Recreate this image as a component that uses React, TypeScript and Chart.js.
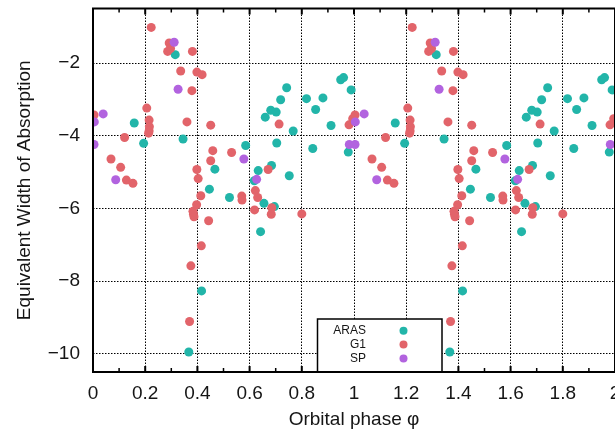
import { useEffect, useRef } from "react";
import { Chart, registerables } from "chart.js";

Chart.register(...registerables);

// Tick values
const xTickValues = [0, 0.2, 0.4, 0.6, 0.8, 1, 1.2, 1.4, 1.6, 1.8, 2];
const yTickValues = [-10, -8, -6, -4, -2];

// ARAS (orbital phase, equivalent width) — plotted over two cycles
const arasPhase = [
  0.158, 0.194, 0.315, 0.345, 0.367, 0.416, 0.446, 0.467, 0.523, 0.585, 0.618,
  0.633, 0.642, 0.655, 0.66, 0.681, 0.684, 0.695, 0.702, 0.704, 0.719, 0.742,
  0.752, 0.767, 0.818, 0.842, 0.853, 0.881, 0.912, 0.949, 0.96, 0.978, 0.989,
  1.158, 1.194, 1.315, 1.345, 1.367, 1.416, 1.446, 1.467, 1.523, 1.585, 1.618,
  1.633, 1.642, 1.655, 1.66, 1.681, 1.684, 1.695, 1.702, 1.704, 1.719, 1.742,
  1.752, 1.767, 1.818, 1.842, 1.853, 1.881, 1.912, 1.949, 1.96, 1.978, 1.989,
];
const arasWidth = [
  -3.65, -4.21, -1.77, -4.09, -9.95, -8.27, -5.47, -4.92, -5.7, -4.27, -5.24,
  -4.96, -6.64, -5.86, -3.49, -3.3, -4.82, -5.95, -3.35, -4.2, -3.01, -2.68,
  -5.1, -3.87, -2.98, -4.35, -3.28, -2.96, -3.72, -2.46, -2.4, -4.45, -2.74,
  -3.65, -4.21, -1.77, -4.09, -9.95, -8.27, -5.47, -4.92, -5.7, -4.27, -5.24,
  -4.96, -6.64, -5.86, -3.49, -3.3, -4.82, -5.95, -3.35, -4.2, -3.01, -2.68,
  -5.1, -3.87, -2.98, -4.35, -3.28, -2.96, -3.72, -2.46, -2.4, -4.45, -2.74,
];

// G1
const g1Phase = [
  0.004, 0.069, 0.106, 0.121, 0.128, 0.153, 0.206, 0.215, 0.216, 0.215, 0.213,
  0.223, 0.286, 0.292, 0.297, 0.336, 0.36, 0.37, 0.375, 0.379, 0.381, 0.383,
  0.385, 0.387, 0.397, 0.398, 0.398, 0.403, 0.413, 0.415, 0.418, 0.443, 0.451,
  0.451, 0.459, 0.531, 0.57, 0.571, 0.619, 0.622, 0.631, 0.671, 0.683, 0.685,
  0.713, 0.8, 0.981, 0.995,
  1.004, 1.069, 1.106, 1.121, 1.128, 1.153, 1.206, 1.215, 1.216, 1.215, 1.213,
  1.223, 1.286, 1.292, 1.297, 1.336, 1.36, 1.37, 1.375, 1.379, 1.381, 1.383,
  1.385, 1.387, 1.397, 1.398, 1.398, 1.403, 1.413, 1.415, 1.418, 1.443, 1.451,
  1.451, 1.459, 1.531, 1.57, 1.571, 1.619, 1.622, 1.631, 1.671, 1.683, 1.685,
  1.713, 1.8, 1.981, 1.995,
];
const g1Width = [
  -3.43, -4.64, -4.87, -4.05, -5.22, -5.31, -3.24, -3.57, -3.75, -3.87, -3.93,
  -1.02, -1.68, -1.45, -1.6, -2.22, -3.62, -9.11, -7.58, -2.76, -1.68, -6.08,
  -6.16, -6.23, -5.9, -2.25, -4.93, -5.18, -5.65, -7.03, -2.32, -6.34, -3.71,
  -4.69, -4.41, -4.46, -5.66, -5.77, -6.04, -5.51, -5.7, -4.93, -6.16, -5.98,
  -3.68, -6.15, -3.7, -3.53,
  -3.43, -4.64, -4.87, -4.05, -5.22, -5.31, -3.24, -3.57, -3.75, -3.87, -3.93,
  -1.02, -1.68, -1.45, -1.6, -2.22, -3.62, -9.11, -7.58, -2.76, -1.68, -6.08,
  -6.16, -6.23, -5.9, -2.25, -4.93, -5.18, -5.65, -7.03, -2.32, -6.34, -3.71,
  -4.69, -4.41, -4.46, -5.66, -5.77, -6.04, -5.51, -5.7, -4.93, -6.16, -5.98,
  -3.68, -6.15, -3.7, -3.53,
];

// SP
const spPhase = [
  0.005, 0.004, 0.039, 0.087, 0.311, 0.326, 0.578, 0.627, 0.982,
  1.005, 1.004, 1.039, 1.087, 1.311, 1.326, 1.578, 1.627, 1.982,
];
const spWidth = [
  -3.62, -4.24, -3.4, -5.21, -1.43, -2.72, -4.64, -5.2, -4.24,
  -3.62, -4.24, -3.4, -5.21, -1.43, -2.72, -4.64, -5.2, -4.24,
];

const seriesLabels = ["ARAS", "G1", "SP"];
const seriesColors = ["#22b5a9", "#e2646a", "#b263df"];

const FONT = "'Liberation Sans', Arial, Helvetica, sans-serif";
const TEXT = "#151515";
const DOT = 4.5;

const toPoints = (xs: number[], ys: number[]) =>
  xs.map((x, i) => ({ x, y: ys[i] }));

const framePlugin = {
  id: "frameAndLegend",
  afterDraw(chart: any) {
    const { ctx, chartArea: a } = chart;
    const xs = chart.scales.x;
    ctx.save();
    ctx.strokeStyle = "#000";
    // inward tick marks on top and bottom borders
    for (let i = 0; i <= 20; i++) {
      const px = xs.getPixelForValue(i / 10);
      const major = i % 2 === 0;
      ctx.lineWidth = major ? 2 : 1.5;
      const len = major ? 6 : 4;
      ctx.beginPath();
      ctx.moveTo(px, a.top);
      ctx.lineTo(px, a.top + len);
      ctx.moveTo(px, a.bottom);
      ctx.lineTo(px, a.bottom - len);
      ctx.stroke();
    }
    // legend box
    const bx = a.left + 224.5;
    const by = a.bottom - 53;
    const bw = 124.5;
    const bh = 53;
    ctx.fillStyle = "#fff";
    ctx.fillRect(bx, by, bw, bh);
    ctx.lineWidth = 1.5;
    ctx.strokeRect(bx, by, bw, bh);
    ctx.font = `12px ${FONT}`;
    ctx.textAlign = "right";
    ctx.textBaseline = "middle";
    chart.data.datasets.forEach((ds: any, i: number) => {
      const ty = by + 11.8 + i * 13.8;
      ctx.fillStyle = TEXT;
      ctx.fillText(ds.label, bx + 48.5, ty);
      ctx.fillStyle = ds.backgroundColor;
      ctx.beginPath();
      ctx.arc(bx + 86, ty, 4, 0, Math.PI * 2);
      ctx.fill();
    });
    // frame
    ctx.lineWidth = 2;
    ctx.strokeRect(a.left, a.top, a.right - a.left, a.bottom - a.top);
    ctx.restore();
  },
};

export default function App() {
  const canvasRef = useRef<HTMLCanvasElement | null>(null);

  useEffect(() => {
    if (!canvasRef.current) return;
    const chart = new Chart(canvasRef.current, {
      type: "scatter",
      data: {
        datasets: [
          {
            label: seriesLabels[0],
            data: toPoints(arasPhase, arasWidth),
            backgroundColor: seriesColors[0],
            pointRadius: DOT,
            pointBorderWidth: 0,
            order: 2,
          },
          {
            label: seriesLabels[1],
            data: toPoints(g1Phase, g1Width),
            backgroundColor: seriesColors[1],
            pointRadius: DOT,
            pointBorderWidth: 0,
            order: 1,
          },
          {
            label: seriesLabels[2],
            data: toPoints(spPhase, spWidth),
            backgroundColor: seriesColors[2],
            pointRadius: DOT,
            pointBorderWidth: 0,
            order: 0,
          },
        ],
      },
      options: {
        animation: false,
        responsive: false,
        devicePixelRatio: 1,
        events: [],
        layout: { padding: { top: 8.5, right: 45, left: 0, bottom: 0 } },
        plugins: {
          legend: { display: false },
          tooltip: { enabled: false },
        },
        scales: {
          x: {
            type: "linear",
            position: "bottom",
            min: 0,
            max: 2,
            afterBuildTicks: (s: any) => {
              s.ticks = xTickValues.map((v) => ({ value: v }));
            },
            afterFit: (s: any) => {
              s.height = 61;
              s.paddingLeft = 0;
              s.paddingRight = 0;
            },
            ticks: {
              autoSkip: false,
              maxRotation: 0,
              padding: 10,
              color: TEXT,
              font: { family: FONT, size: 19 },
              callback: (v: any) => String(Number(Number(v).toFixed(1))),
            },
            grid: { color: "#000", lineWidth: 1, drawTicks: false },
            border: { display: false, dash: [1.5, 1.5] },
            title: {
              display: true,
              text: "Orbital phase φ",
              color: TEXT,
              font: { family: FONT, size: 19 },
              padding: { top: 0, bottom: 2 },
            },
          },
          y: {
            type: "linear",
            position: "left",
            min: -10.5,
            max: -0.5,
            afterBuildTicks: (s: any) => {
              s.ticks = yTickValues.map((v) => ({ value: v }));
            },
            afterFit: (s: any) => {
              s.width = 93;
              s.paddingTop = 0;
              s.paddingBottom = 0;
            },
            ticks: {
              padding: 13,
              color: TEXT,
              font: { family: FONT, size: 19 },
              callback: (v: any) =>
                Number(v) < 0 ? "\u2212" + Math.abs(Number(v)) : String(v),
            },
            grid: { color: "#000", lineWidth: 1, drawTicks: false },
            border: { display: false, dash: [1.5, 1.5] },
            title: {
              display: true,
              text: "Equivalent Width of Absorption",
              color: TEXT,
              font: { family: FONT, size: 19 },
              padding: { top: 13.5, bottom: 0 },
            },
          },
        },
      },
      plugins: [framePlugin],
    });
    return () => chart.destroy();
  }, []);

  return (
    <div
      style={{
        position: "fixed",
        left: 0,
        top: 0,
        width: 615,
        height: 433,
        overflow: "hidden",
        background: "#fff",
      }}
    >
      <canvas
        ref={canvasRef}
        width={660}
        height={433}
        style={{ display: "block", width: 660, height: 433 }}
      />
    </div>
  );
}
